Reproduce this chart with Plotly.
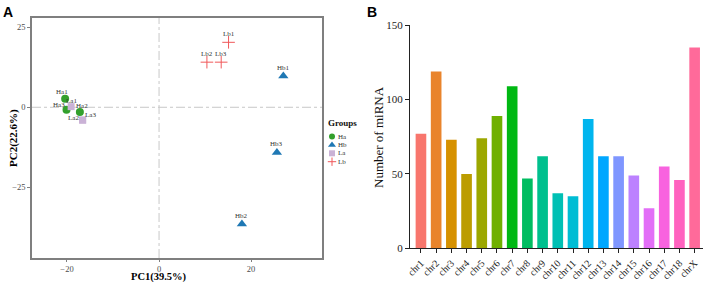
import math
import plotly.graph_objects as go

# ---------------- data ----------------
# Panel A: PCA scores
sample_names = ["Ha1", "Ha2", "Ha3", "Hb1", "Hb2", "Hb3", "La1", "La2", "La3", "Lb1", "Lb2", "Lb3"]
sample_groups = ["Ha", "Ha", "Ha", "Hb", "Hb", "Hb", "La", "La", "La", "Lb", "Lb", "Lb"]
pc1_values = [-20.4, -17.2, -20.1, 27.0, 18.0, 25.6, -19.1, -16.6, -16.6, 15.1, 10.4, 13.5]
pc2_values = [2.7, -1.5, -0.8, 9.8, -36.5, -14.1, 0.2, -4.0, -4.0, 20.3, 14.1, 14.1]
group_names = ["Ha", "Hb", "La", "Lb"]
pc_ticks = [-20, 0, 20]
pc2_ticks = [-25, 0, 25]

# Panel B: miRNA per chromosome
chromosomes = ["chr1", "chr2", "chr3", "chr4", "chr5", "chr6", "chr7", "chr8", "chr9", "chr10",
               "chr11", "chr12", "chr13", "chr14", "chr15", "chr16", "chr17", "chr18", "chrX"]
mirna_counts = [77, 119, 73, 50, 74, 89, 109, 47, 62, 37, 35, 87, 62, 62, 49, 27, 55, 46, 135]
count_ticks = [0, 50, 100, 150]

# ---------------- styles ----------------
group_style = {
    "Ha": dict(symbol="circle", color="#33A02C", size=8, lsize=6, line=dict(width=0)),
    "Hb": dict(symbol="triangle-up", color="#1F78B4", size=9, lsize=7, line=dict(width=0)),
    "La": dict(symbol="square", color="#CAB2D6", size=7, lsize=6, line=dict(width=0)),
    "Lb": dict(symbol="cross-thin", color="#F0585A", size=9, lsize=6, line=dict(width=1, color="#F0585A")),
}
# label offsets (pixels, dx right, dy up) - repel-like placement
label_offset = {
    "Ha1": (-3, 7), "Ha2": (2, 6), "Ha3": (-8, 5), "La1": (0, 6), "La2": (-9, 2), "La3": (8, 5),
    "Hb1": (0, 8), "Hb2": (0, 8), "Hb3": (0, 8), "Lb1": (0, 8), "Lb2": (0, 8), "Lb3": (0, 8),
}


def hcl_hex(h, c=100.0, l=65.0):
    Xn, Yn, Zn = 95.047, 100.0, 108.883
    hr = math.radians(h)
    u = c * math.cos(hr)
    v = c * math.sin(hr)
    Y = Yn * ((l + 16) / 116) ** 3
    den = Xn + 15 * Yn + 3 * Zn
    un, vn = 4 * Xn / den, 9 * Yn / den
    up = u / (13 * l) + un
    vp = v / (13 * l) + vn
    X = Y * 9 * up / (4 * vp)
    Z = Y * (12 - 3 * up - 20 * vp) / (4 * vp)
    X, Y, Z = X / 100, Y / 100, Z / 100
    r = 3.240479 * X - 1.537150 * Y - 0.498535 * Z
    g = -0.969256 * X + 1.875992 * Y + 0.041556 * Z
    b = 0.055648 * X - 0.204043 * Y + 1.057311 * Z

    def gam(t):
        t = 12.92 * t if t <= 0.0031308 else 1.055 * t ** (1 / 2.4) - 0.055
        return min(max(t, 0), 1)

    return "#%02X%02X%02X" % tuple(int(round(gam(t) * 255)) for t in (r, g, b))


n = len(chromosomes)
bar_colors = [hcl_hex(15 + 360 * i / n) for i in range(n)]

SERIF = "Liberation Serif"
SANS = "Liberation Sans"
W, H = 708, 282

fig = go.Figure()

# ---- Panel A points ----
for g in group_names:
    idx = [i for i, s in enumerate(sample_groups) if s == g]
    st = group_style[g]
    fig.add_trace(go.Scatter(
        x=[pc1_values[i] for i in idx], y=[pc2_values[i] for i in idx],
        mode="markers", name=g, showlegend=False,
        marker=dict(symbol=st["symbol"], color=st["color"], size=st["size"], line=st["line"]),
        xaxis="x", yaxis="y", cliponaxis=False,
    ))

annotations = []
for name, x, y in zip(sample_names, pc1_values, pc2_values):
    dx, dy = label_offset[name]
    annotations.append(dict(x=x, y=y, xref="x", yref="y", text=name, showarrow=False,
                            xshift=dx, yshift=dy, font=dict(family=SERIF, size=7, color="#333333")))

# ---- Panel A legend (manual, compact) in its own small pixel-scaled axis ----
LEG_X = (320, 360)   # pixel span of the legend box
LEG_Y = (115, 170)
leg_x_px, leg_y0_px, leg_dy = 332, 136.5, 8.4
for i, g in enumerate(group_names):
    st = group_style[g]
    fig.add_trace(go.Scatter(
        x=[leg_x_px], y=[leg_y0_px + i * leg_dy], mode="markers", showlegend=False,
        marker=dict(symbol=st["symbol"], color=st["color"], size=st["lsize"], line=st["line"]),
        xaxis="x3", yaxis="y3", hoverinfo="skip", cliponaxis=False,
    ))
    annotations.append(dict(x=(leg_x_px + 4) / W, y=1 - (leg_y0_px + i * leg_dy) / H, xref="paper", yref="paper",
                            text=g, showarrow=False, xanchor="left", yanchor="middle",
                            font=dict(family=SERIF, size=7, color="#333333")))
annotations.append(dict(x=326 / W, y=1 - 123 / H, xref="paper", yref="paper", text="<b>Groups</b>",
                        showarrow=False, xanchor="left", yanchor="middle",
                        font=dict(family=SERIF, size=9, color="#111111")))

# ---- Panel B bars ----
fig.add_trace(go.Bar(
    x=chromosomes, y=mirna_counts, marker=dict(color=bar_colors, line=dict(width=0)),
    width=0.7, showlegend=False, xaxis="x2", yaxis="y2",
))

# panel letters and axis titles
annotations += [
    dict(x=8 / W, y=1 - 12 / H, xref="paper", yref="paper", text="<b>A</b>", showarrow=False,
         font=dict(family=SANS, size=14, color="#000"), xanchor="center", yanchor="middle"),
    dict(x=372 / W, y=1 - 12 / H, xref="paper", yref="paper", text="<b>B</b>", showarrow=False,
         font=dict(family=SANS, size=14, color="#000"), xanchor="center", yanchor="middle"),
    dict(x=159 / W, y=1 - 277 / H, xref="paper", yref="paper", text="<b>PC1(39.5%)</b>", showarrow=False,
         borderpad=0, font=dict(family=SERIF, size=10.5, color="#000"), xanchor="center", yanchor="middle"),
    dict(x=14 / W, y=1 - 138 / H, xref="paper", yref="paper", text="<b>PC2(22.6%)</b>", showarrow=False,
         textangle=-90, font=dict(family=SERIF, size=11, color="#000"), xanchor="center", yanchor="middle"),
    dict(x=378 / W, y=1 - 137 / H, xref="paper", yref="paper", text="Number of miRNA", showarrow=False,
         textangle=-90, font=dict(family=SERIF, size=13, color="#111"), xanchor="center", yanchor="middle"),
]

shapes = [
    dict(type="line", xref="x", yref="y domain", x0=0, x1=0, y0=0, y1=1,
         line=dict(color="#C8C8C8", width=1, dash="dashdot"), layer="below"),
    dict(type="line", xref="x domain", yref="y", x0=0, x1=1, y0=0, y1=0,
         line=dict(color="#C8C8C8", width=1, dash="dashdot"), layer="below"),
]

axA = dict(showgrid=False, zeroline=False, showline=True, mirror=True, linecolor="#7F7F7F", linewidth=1.5,
           ticks="outside", ticklen=3, tickcolor="#7F7F7F", tickwidth=1, automargin=False,
           tickfont=dict(family=SERIF, size=8.5, color="#4D4D4D"))

fig.update_layout(
    template="none",
    width=W, height=H, margin=dict(l=0, r=0, t=0, b=0, pad=0), autosize=False,
    plot_bgcolor="rgba(0,0,0,0)", paper_bgcolor="white",
    xaxis=dict(axA, domain=[32 / W, 322 / W], range=[-27.6, 35.4], tickvals=pc_ticks, anchor="y", ticklen=2),
    yaxis=dict(axA, domain=[24 / H, 264 / H], range=[-47.1, 27.9], tickvals=pc2_ticks, anchor="x"),
    xaxis2=dict(domain=[410 / W, 703 / W], range=[-0.72, 18.55], anchor="y2", showgrid=False, zeroline=False,
                showline=True, linecolor="#222", linewidth=1.2, ticks="outside", ticklen=4, tickcolor="#222",
                tickangle=-45, automargin=False, tickfont=dict(family=SERIF, size=10, color="#222")),
    yaxis2=dict(domain=[33.7 / H, 256.7 / H], range=[0, 150], anchor="x2", showgrid=False, zeroline=False,
                showline=True, linecolor="#222", linewidth=1.2, ticks="outside", ticklen=4, tickcolor="#222",
                automargin=False, tickvals=count_ticks, tickfont=dict(family=SERIF, size=11, color="#222")),
    xaxis3=dict(domain=[LEG_X[0] / W, LEG_X[1] / W], range=list(LEG_X), visible=False, fixedrange=True,
                anchor="y3", automargin=False),
    yaxis3=dict(domain=[1 - LEG_Y[1] / H, 1 - LEG_Y[0] / H], range=[LEG_Y[1], LEG_Y[0]], visible=False,
                fixedrange=True, anchor="x3", automargin=False),
    annotations=annotations, shapes=shapes, bargap=0.3,
)

fig.write_html("out.html", config={"displayModeBar": False},
               post_script="document.body.style.margin='0px';document.body.style.padding='0px';"
                           "document.body.style.overflow='hidden';")
